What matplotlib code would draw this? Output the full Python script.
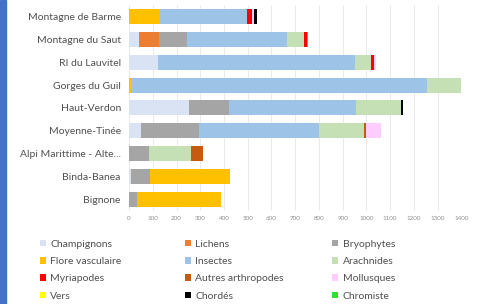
import numpy as np
import matplotlib.pyplot as plt
from matplotlib.patches import Rectangle

sites = ["Montagne de Barme", "Montagne du Saut", "RI du Lauvitel", "Gorges du Guil",
         "Haut-Verdon", "Moyenne-Tinée", "Alpi Marittime - Alte...", "Binda-Banea", "Bignone"]

groups = ["Champignons", "Lichens", "Bryophytes", "Flore vasculaire", "Insectes",
          "Arachnides", "Myriapodes", "Autres arthropodes", "Mollusques", "Vers",
          "Chordés", "Chromiste"]

colors = ["#dae3f3", "#ed7d31", "#a5a5a5", "#ffc000", "#9dc3e6", "#c5e0b4",
          "#ff0000", "#c55a11", "#ffccff", "#ffff00", "#000000", "#33dd33"]

# counts per site, in the same order as sites
champignons = [0, 42, 122, 0, 254, 49, 0, 10, 0]
lichens = [0, 85, 0, 0, 0, 0, 0, 0, 0]
bryophytes = [0, 115, 0, 0, 165, 246, 82, 77, 35]
flore = [130, 0, 0, 12, 0, 0, 0, 338, 351]
insectes = [367, 423, 831, 1244, 538, 506, 0, 0, 0]
arachnides = [0, 70, 67, 144, 190, 191, 177, 0, 0]
myriapodes = [20, 14, 14, 0, 0, 0, 0, 0, 0]
autres = [0, 0, 0, 0, 0, 5, 54, 0, 0]
mollusques = [8, 0, 6, 0, 0, 65, 0, 0, 0]
vers = [0, 0, 0, 0, 0, 0, 0, 0, 0]
chordes = [12, 0, 0, 0, 9, 0, 0, 0, 0]
chromiste = [0, 5, 0, 0, 0, 0, 0, 0, 0]

series = [champignons, lichens, bryophytes, flore, insectes, arachnides,
          myriapodes, autres, mollusques, vers, chordes, chromiste]

plt.rcParams["font.family"] = ["Lato", "DejaVu Sans"]

fig = plt.figure(figsize=(4.8, 3.04), dpi=100)
fig.patches.append(Rectangle((0, 0), 6 / 480, 1, transform=fig.transFigure,
                             color="#4472c4", zorder=-1))
ax = fig.add_axes([0.269, 0.307, 0.692, 0.676])

y = np.arange(len(sites))
left = np.zeros(len(sites))
for vals, col, name in zip(series, colors, groups):
    vals = np.array(vals, dtype=float)
    ax.barh(y, vals, left=left, height=0.66, color=col, label=name, zorder=3)
    left += vals

ax.set_ylim(len(sites) - 0.5, -0.5)
ax.set_xlim(0, 1400)
ax.set_xticks(np.arange(0, 1401, 100))
ax.set_yticks(y)
ax.set_yticklabels(sites, fontsize=7.5, color="#505050")
ax.tick_params(axis="x", labelsize=4.5, colors="#909090", length=0, pad=4)
ax.tick_params(axis="y", length=0, pad=6)
ax.grid(axis="x", color="#e6e6e6", linewidth=0.6, zorder=0)
for s in ax.spines.values():
    s.set_visible(False)

# legend laid out row by row in 3 equal columns (one legend per column)
handles, labels = ax.get_legend_handles_labels()
col_x = [0.083, 0.385, 0.692]
for c, x0 in enumerate(col_x):
    idx = list(range(c, len(groups), 3))
    leg = fig.legend([handles[i] for i in idx], [labels[i] for i in idx],
                     loc="upper left", bbox_to_anchor=(x0, 0.212), ncol=1,
                     frameon=False, fontsize=7.5, handlelength=0.6,
                     handleheight=0.6, handletextpad=0.4, labelspacing=0.8,
                     labelcolor="#505050", borderaxespad=0, borderpad=0)

fig.savefig("out.png", dpi=100)
